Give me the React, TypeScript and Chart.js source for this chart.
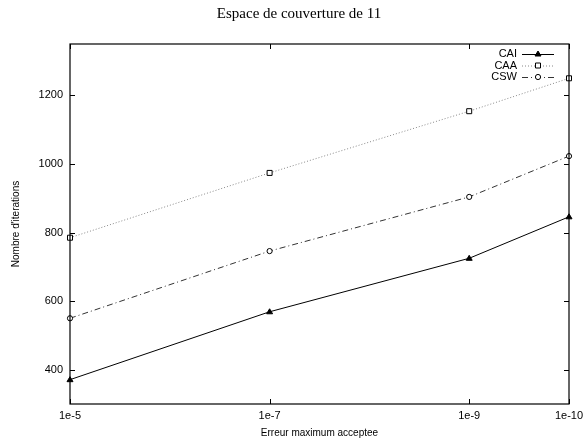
import React, { useEffect, useRef } from 'react';
import { Chart, registerables } from 'chart.js';
Chart.register(...registerables);

// ---- data ----
const xPositions = [5, 7, 9, 10]; // -log10(error)
const xTickLabels = ['1e-5', '1e-7', '1e-9', '1e-10'];
const yTicks = [400, 600, 800, 1000, 1200];
const seriesNames = ['CAI', 'CAA', 'CSW'];
const caiValues = [371, 569, 725, 846];
const caaValues = [785, 974, 1154, 1250];
const cswValues = [550, 746, 904, 1023];
const titleText = 'Espace de couverture de 11';
const xTitle = 'Erreur maximum acceptee';
const yTitle = "Nombre d'iterations";

// ---- styles ----
const SANS = "'Liberation Sans', Arial, sans-serif";
const seriesColors = ['#000000', '#888888', '#333333'];
const seriesDash: number[][] = [[], [1, 2], [6, 3, 1, 3]];
const seriesPoint = ['triangle', 'rect', 'circle'];

function drawMarker(ctx: CanvasRenderingContext2D, style: string, x: number, y: number) {
  ctx.save();
  ctx.setLineDash([]);
  ctx.lineWidth = 1;
  ctx.strokeStyle = '#000';
  ctx.beginPath();
  if (style === 'triangle') {
    ctx.moveTo(x, y - 3);
    ctx.lineTo(x + 3, y + 2);
    ctx.lineTo(x - 3, y + 2);
    ctx.closePath();
    ctx.fillStyle = '#000';
    ctx.fill();
  } else if (style === 'rect') {
    ctx.rect(x - 2.5, y - 2.5, 5, 5);
    ctx.fillStyle = '#fff';
    ctx.fill();
  } else {
    ctx.arc(x, y, 2.6, 0, Math.PI * 2);
    ctx.fillStyle = '#fff';
    ctx.fill();
  }
  ctx.stroke();
  ctx.restore();
}

const framePlugin = {
  id: 'frame',
  afterDraw(chart: any) {
    const { ctx, chartArea } = chart;
    const { left, right, top, bottom } = chartArea;
    const xs = chart.scales.x;
    const ys = chart.scales.y;
    ctx.save();
    ctx.strokeStyle = '#000';
    ctx.lineWidth = 1.2;
    ctx.setLineDash([]);
    ctx.strokeRect(left, top, right - left, bottom - top);
    ctx.lineWidth = 1;
    ctx.beginPath();
    yTicks.forEach((v) => {
      const py = Math.round(ys.getPixelForValue(v)) + 0.5;
      ctx.moveTo(left, py);
      ctx.lineTo(left + 5, py);
      ctx.moveTo(right, py);
      ctx.lineTo(right - 5, py);
    });
    xPositions.forEach((v) => {
      const px = Math.round(xs.getPixelForValue(v)) + 0.5;
      ctx.moveTo(px, bottom);
      ctx.lineTo(px, bottom - 5);
      ctx.moveTo(px, top);
      ctx.lineTo(px, top + 5);
    });
    ctx.stroke();

    // title
    ctx.fillStyle = '#000';
    ctx.font = "15px 'Liberation Serif', 'Times New Roman', serif";
    ctx.textAlign = 'center';
    ctx.textBaseline = 'middle';
    ctx.fillText(titleText, 299, 14);

    // axis titles
    ctx.font = `10px ${SANS}`;
    ctx.fillText(xTitle, (left + right) / 2, 433);
    ctx.save();
    ctx.translate(16, (top + bottom) / 2);
    ctx.rotate(-Math.PI / 2);
    ctx.fillText(yTitle, 0, 0);
    ctx.restore();

    // legend
    ctx.font = `11px ${SANS}`;
    ctx.textAlign = 'right';
    seriesNames.forEach((name, i) => {
      const ly = 54 + i * 11.5;
      ctx.fillStyle = '#000';
      ctx.fillText(name, 517, ly);
      ctx.save();
      ctx.strokeStyle = seriesColors[i];
      ctx.setLineDash(seriesDash[i]);
      ctx.beginPath();
      ctx.moveTo(522, ly + 0.5);
      ctx.lineTo(554, ly + 0.5);
      ctx.stroke();
      ctx.restore();
      drawMarker(ctx, seriesPoint[i], 538, ly);
    });
    ctx.restore();
  },
};

const markerPlugin = {
  id: 'markers',
  afterDatasetsDraw(chart: any) {
    const ctx = chart.ctx;
    chart.data.datasets.forEach((ds: any, i: number) => {
      const meta = chart.getDatasetMeta(i);
      meta.data.forEach((pt: any) => drawMarker(ctx, seriesPoint[i], pt.x, pt.y));
    });
  },
};

export default function App() {
  const ref = useRef<HTMLCanvasElement | null>(null);
  useEffect(() => {
    if (!ref.current) return;
    const mk = (vals: number[]) => xPositions.map((x, i) => ({ x, y: vals[i] }));
    const allValues = [caiValues, caaValues, cswValues];
    const chart = new Chart(ref.current, {
      type: 'line',
      data: {
        datasets: allValues.map((vals, i) => ({
          label: seriesNames[i],
          data: mk(vals),
          borderColor: seriesColors[i],
          borderWidth: 1,
          borderDash: seriesDash[i],
          pointRadius: 0,
          fill: false,
          tension: 0,
        })),
      },
      options: {
        animation: false,
        responsive: false,
        devicePixelRatio: 1,
        layout: { padding: { left: 0, top: 44, right: 14, bottom: 0 } },
        plugins: { legend: { display: false }, title: { display: false }, tooltip: { enabled: false } },
        scales: {
          x: {
            type: 'linear',
            min: 5,
            max: 10,
            grid: { display: false, drawTicks: false },
            border: { display: false },
            afterBuildTicks: (s: any) => { s.ticks = xPositions.map((v) => ({ value: v })); },
            afterFit: (s: any) => { s.height = 39; s.paddingLeft = 0; s.paddingRight = 0; },
            ticks: {
              autoSkip: false,
              maxRotation: 0,
              padding: 5,
              color: '#000',
              font: { family: SANS, size: 11 },
              callback: (_v: any, idx: number) => xTickLabels[idx],
            },
          },
          y: {
            type: 'linear',
            min: 300,
            max: 1350,
            grid: { display: false, drawTicks: false },
            border: { display: false },
            afterBuildTicks: (s: any) => { s.ticks = yTicks.map((v) => ({ value: v })); },
            afterFit: (s: any) => { s.width = 70; s.paddingTop = 0; s.paddingBottom = 0; },
            ticks: {
              autoSkip: false,
              padding: 7,
              color: '#000',
              font: { family: SANS, size: 11 },
              callback: (v: any) => String(v),
            },
          },
        },
      },
      plugins: [framePlugin, markerPlugin],
    });
    return () => chart.destroy();
  }, []);
  return (
    <div style={{ position: 'fixed', left: 0, top: 0, width: 583, height: 443, background: '#fff' }}>
      <canvas ref={ref} width={583} height={443} style={{ width: 583, height: 443 }} />
    </div>
  );
}
